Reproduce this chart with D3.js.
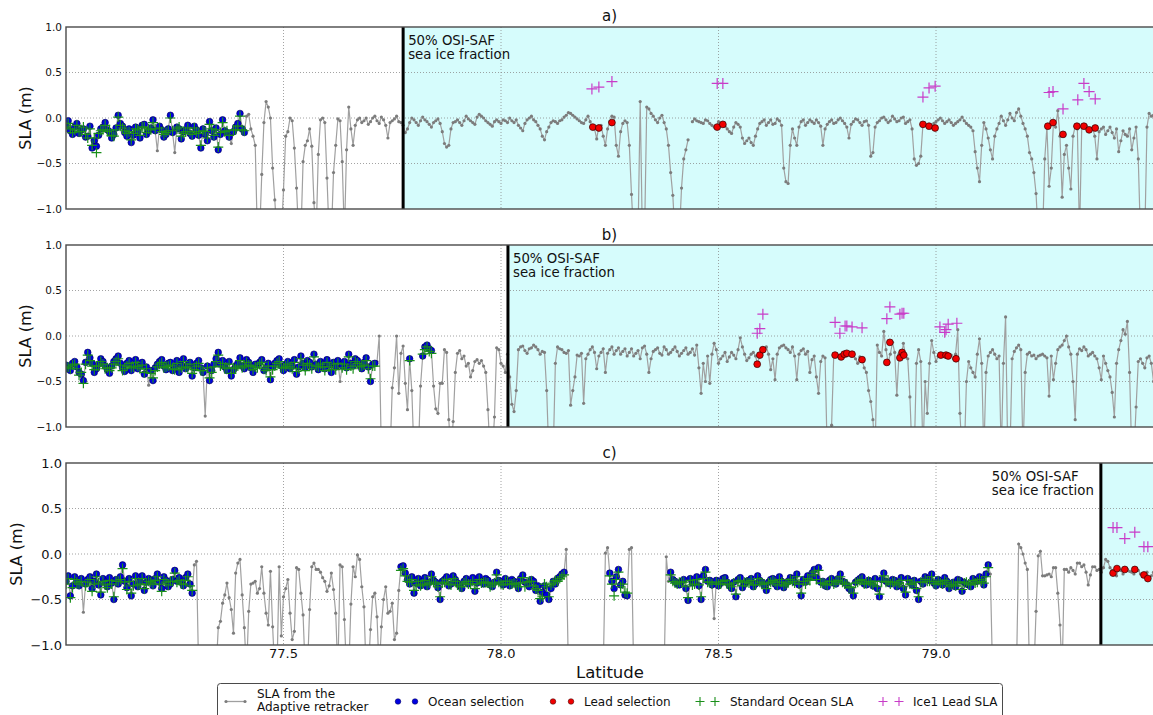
<!DOCTYPE html>
<html>
<head>
<meta charset="utf-8">
<script src="https://cdn.jsdelivr.net/npm/d3@7"></script>
<style>
  body { margin: 0; background: #fff; }
  svg { display: block; }
  text { font-family: "DejaVu Sans", "Liberation Sans", sans-serif; fill: #111; }
</style>
</head>
<body>
<svg id="chart" width="1153" height="715"></svg>
<script>
// Along-track latitude of the records (degrees N): main records and the ones in between
const track = [
  77.00,77.01,77.02,77.03,77.04,77.05,77.06,77.07,77.08,77.09,
  77.10,77.11,77.12,77.13,77.14,77.15,77.16,77.17,77.18,77.19,
  77.20,77.21,77.22,77.23,77.24,77.25,77.26,77.27,77.28,77.29,
  77.30,77.31,77.32,77.33,77.34,77.35,77.36,77.37,77.38,77.39,
  77.40,77.41,77.42,77.43,77.44,77.45,77.46,77.47,77.48,77.49,
  77.50,77.51,77.52,77.53,77.54,77.55,77.56,77.57,77.58,77.59,
  77.60,77.61,77.62,77.63,77.64,77.65,77.66,77.67,77.68,77.69,
  77.70,77.71,77.72,77.73,77.74,77.75,77.76,77.77,77.78,77.79,
  77.80,77.81,77.82,77.83,77.84,77.85,77.86,77.87,77.88,77.89,
  77.90,77.91,77.92,77.93,77.94,77.95,77.96,77.97,77.98,77.99,
  78.00,78.01,78.02,78.03,78.04,78.05,78.06,78.07,78.08,78.09,
  78.10,78.11,78.12,78.13,78.14,78.15,78.16,78.17,78.18,78.19,
  78.20,78.21,78.22,78.23,78.24,78.25,78.26,78.27,78.28,78.29,
  78.30,78.31,78.32,78.33,78.34,78.35,78.36,78.37,78.38,78.39,
  78.40,78.41,78.42,78.43,78.44,78.45,78.46,78.47,78.48,78.49,
  78.50,78.51,78.52,78.53,78.54,78.55,78.56,78.57,78.58,78.59,
  78.60,78.61,78.62,78.63,78.64,78.65,78.66,78.67,78.68,78.69,
  78.70,78.71,78.72,78.73,78.74,78.75,78.76,78.77,78.78,78.79,
  78.80,78.81,78.82,78.83,78.84,78.85,78.86,78.87,78.88,78.89,
  78.90,78.91,78.92,78.93,78.94,78.95,78.96,78.97,78.98,78.99,
  79.00,79.01,79.02,79.03,79.04,79.05,79.06,79.07,79.08,79.09,
  79.10,79.11,79.12,79.13,79.14,79.15,79.16,79.17,79.18,79.19,
  79.20,79.21,79.22,79.23,79.24,79.25,79.26,79.27,79.28,79.29,
  79.30,79.31,79.32,79.33,79.34,79.35,79.36,79.37,79.38,79.39,
  79.40,79.41,79.42,79.43,79.44,79.45,79.46,79.47,79.48,79.49,
  79.50
];
const trackMid = [
  77.005,77.015,77.025,77.035,77.045,77.055,77.065,77.075,77.085,77.095,
  77.105,77.115,77.125,77.135,77.145,77.155,77.165,77.175,77.185,77.195,
  77.205,77.215,77.225,77.235,77.245,77.255,77.265,77.275,77.285,77.295,
  77.305,77.315,77.325,77.335,77.345,77.355,77.365,77.375,77.385,77.395,
  77.405,77.415,77.425,77.435,77.445,77.455,77.465,77.475,77.485,77.495,
  77.505,77.515,77.525,77.535,77.545,77.555,77.565,77.575,77.585,77.595,
  77.605,77.615,77.625,77.635,77.645,77.655,77.665,77.675,77.685,77.695,
  77.705,77.715,77.725,77.735,77.745,77.755,77.765,77.775,77.785,77.795,
  77.805,77.815,77.825,77.835,77.845,77.855,77.865,77.875,77.885,77.895,
  77.905,77.915,77.925,77.935,77.945,77.955,77.965,77.975,77.985,77.995,
  78.005,78.015,78.025,78.035,78.045,78.055,78.065,78.075,78.085,78.095,
  78.105,78.115,78.125,78.135,78.145,78.155,78.165,78.175,78.185,78.195,
  78.205,78.215,78.225,78.235,78.245,78.255,78.265,78.275,78.285,78.295,
  78.305,78.315,78.325,78.335,78.345,78.355,78.365,78.375,78.385,78.395,
  78.405,78.415,78.425,78.435,78.445,78.455,78.465,78.475,78.485,78.495,
  78.505,78.515,78.525,78.535,78.545,78.555,78.565,78.575,78.585,78.595,
  78.605,78.615,78.625,78.635,78.645,78.655,78.665,78.675,78.685,78.695,
  78.705,78.715,78.725,78.735,78.745,78.755,78.765,78.775,78.785,78.795,
  78.805,78.815,78.825,78.835,78.845,78.855,78.865,78.875,78.885,78.895,
  78.905,78.915,78.925,78.935,78.945,78.955,78.965,78.975,78.985,78.995,
  79.005,79.015,79.025,79.035,79.045,79.055,79.065,79.075,79.085,79.095,
  79.105,79.115,79.125,79.135,79.145,79.155,79.165,79.175,79.185,79.195,
  79.205,79.215,79.225,79.235,79.245,79.255,79.265,79.275,79.285,79.295,
  79.305,79.315,79.325,79.335,79.345,79.355,79.365,79.375,79.385,79.395,
  79.405,79.415,79.425,79.435,79.445,79.455,79.465,79.475,79.485,79.495
];

// SLA from the Adaptive retracker (m); values below -1 fall outside the axis
const slaA = [
  -0.08,-0.14,-0.10,-0.17,-0.12,-0.20,-0.33,-0.31,-0.12,-0.05,
  -0.15,-0.18,0.03,-0.09,-0.20,-0.27,-0.10,-0.22,-0.07,-0.14,
  -0.02,-0.36,-0.13,-0.18,0.03,-0.38,-0.12,-0.15,-0.08,-0.20,
  -0.13,-0.33,-0.18,-0.04,-0.21,-0.35,-0.02,-0.16,-0.28,-0.10,
  0.05,-0.16,0.04,-0.20,-1.3,-0.62,0.18,0.00,-0.90,-1.3,
  -0.79,-0.15,-0.03,-0.77,-1.3,-0.30,-0.12,-0.93,-0.40,0.00,
  -0.66,-1.3,-0.30,-0.03,-1.3,0.12,-0.30,-0.02,-0.05,0.00,
  -0.04,0.02,-0.06,-0.02,-0.22,-0.03,0.02,-0.05,-0.16,-0.05,
  -0.02,-0.08,0.01,-0.04,-0.10,-0.03,-0.06,-0.28,-0.30,-0.05,
  -0.02,-0.08,0.02,-0.03,-0.07,0.04,0.00,-0.05,-0.09,-0.02,
  -0.06,-0.03,0.00,-0.05,-0.08,-0.14,-0.02,0.02,-0.04,-0.12,
  -0.24,-0.10,-0.03,-0.06,-0.02,0.03,0.05,0.01,-0.03,-0.06,
  0.02,-0.10,-0.23,-0.08,-0.30,-0.04,0.01,-0.42,-0.06,-0.05,
  -0.84,-1.3,0.18,-1.3,0.10,0.02,-0.05,0.03,-0.12,-0.60,
  -1.3,-1.3,-0.45,-0.24,-0.04,-0.03,-0.05,-0.02,-0.06,-0.10,
  -0.04,-0.07,-0.12,-0.17,-0.05,-0.10,-0.28,-0.22,-0.30,-0.12,
  -0.04,-0.08,-0.02,-0.06,-0.03,-0.55,-0.72,-0.12,-0.30,-0.04,
  -0.08,-0.02,-0.06,-0.05,-0.30,-0.07,-0.02,-0.05,0.00,-0.06,
  -0.22,-0.04,-0.02,-0.08,-0.03,-0.42,-0.10,-0.03,0.01,-0.05,
  0.02,-0.04,0.00,-0.06,-0.02,-0.45,-0.50,-0.07,-0.09,-0.11,
  -0.04,0.00,-0.06,-0.02,-0.08,-0.04,0.01,-0.06,-0.10,-0.37,
  -0.70,-0.05,-0.22,-0.45,-0.12,0.02,-0.08,0.05,-0.03,0.10,
  -0.06,-0.20,-0.45,-0.83,-1.3,-0.45,-0.75,-0.05,0.08,-0.87,
  -0.30,-0.78,-0.09,-1.3,-0.09,-0.13,-0.11,-0.45,-0.12,-0.18,
  -0.10,-0.22,-0.37,-0.14,-0.20,-0.35,-0.10,-1.3,-1.3,0.05,
  0.03
];
const slaAMid = [
  -0.03,-0.18,-0.06,-0.13,-0.21,-0.09,-0.25,-0.19,-0.10,-0.13,
  -0.22,-0.11,-0.06,-0.16,-0.12,-0.19,-0.15,-0.08,-0.18,-0.11,
  -0.14,-0.09,-0.21,-0.12,-0.16,-0.10,-0.23,-0.13,-0.17,-0.09,
  -0.19,-0.12,-0.25,-0.14,-0.11,-0.18,-0.14,-0.21,-0.15,-0.06,
  -0.12,0.02,-0.12,-0.30,-1.3,-0.05,0.12,-0.55,-1.3,-1.3,
  -0.20,0.00,-0.33,-1.3,-0.48,-0.25,-0.31,-1.3,-0.02,-0.05,
  -1.3,-0.60,-0.01,-0.48,-0.35,-0.12,-0.08,0.00,-0.03,-0.07,
  0.00,-0.03,0.01,-0.08,-0.05,-0.01,-0.04,-0.08,-0.12,0.00,
  -0.05,-0.03,-0.02,-0.07,-0.05,-0.01,-0.15,-0.32,-0.12,-0.04,
  -0.05,-0.03,-0.01,-0.05,0.01,0.02,-0.03,-0.07,-0.04,-0.04,
  -0.02,-0.05,-0.03,-0.02,-0.11,-0.06,0.00,-0.02,-0.08,-0.20,
  -0.15,-0.05,-0.04,-0.03,0.01,0.06,0.03,-0.01,-0.05,-0.02,
  -0.04,-0.12,-0.09,-0.20,-0.12,0.02,-0.30,-0.15,-0.03,-0.30,
  -1.3,-1.3,-1.3,0.12,0.05,-0.02,0.00,-0.05,-0.30,-0.85,
  -1.3,-0.77,-0.35,null,-0.01,-0.04,-0.06,-0.03,-0.08,-0.09,
  -0.06,-0.09,-0.15,-0.10,-0.07,-0.22,-0.25,-0.27,-0.20,-0.06,
  -0.02,-0.05,-0.07,-0.01,-0.08,-0.70,-0.30,-0.22,-0.10,-0.02,
  -0.05,-0.04,-0.02,-0.09,-0.12,-0.04,-0.06,-0.02,-0.03,-0.10,
  -0.07,-0.01,-0.05,-0.04,-0.08,-0.38,-0.05,0.00,-0.02,-0.03,
  -0.01,-0.03,0.01,-0.04,-0.12,-0.52,-0.42,-0.08,-0.10,-0.06,
  -0.02,-0.03,-0.04,-0.05,-0.06,-0.02,-0.03,-0.08,-0.14,-0.55,
  -0.30,-0.12,-0.35,-0.20,-0.06,-0.03,-0.02,0.00,0.06,0.02,
  -0.12,-0.38,-0.60,-1.3,-1.3,-0.10,-0.55,-0.10,-0.20,-0.40,
  -0.55,-0.20,-0.12,-0.10,-0.08,-0.12,-0.20,-0.15,-0.10,-0.14,
  -0.16,-0.12,-0.25,-0.18,-0.12,-0.22,-0.45,-1.3,-0.10,0.02
];

const slaB = [
  -0.32,-0.38,-0.28,-0.40,-0.49,-0.18,-0.30,-0.36,-0.25,-0.33,
  -0.41,-0.28,-0.22,-0.35,-0.30,-0.38,-0.26,-0.33,-0.42,-0.54,
  -0.49,-0.31,-0.26,-0.37,-0.29,-0.34,-0.40,-0.25,-0.32,-0.44,
  -0.30,-0.35,-0.88,-0.49,-0.31,-0.18,-0.27,-0.38,-0.44,-0.33,
  -0.24,-0.36,-0.29,-0.40,-0.32,-0.26,-0.35,-0.48,-0.30,-0.25,
  -0.38,-0.28,-0.33,-0.42,-0.22,-0.35,-0.29,-0.20,-0.37,-0.31,
  -0.26,-0.40,-0.34,-0.50,-0.28,-0.20,-0.33,-0.27,-0.36,-0.24,
  -0.50,-0.30,0.00,-1.3,-1.3,-0.57,0.00,-0.19,-0.52,-0.25,
  -1.3,-1.3,-0.22,-0.10,-0.16,-0.80,-0.52,-0.15,-0.92,-0.94,
  -0.19,-0.25,-0.33,-0.45,-0.28,-0.30,-0.33,-0.81,-1.3,-0.13,
  -0.30,-0.40,-0.45,-0.83,-0.15,-0.11,-0.19,-0.13,-0.12,-0.20,
  -0.18,-1.3,-1.3,-0.12,-0.15,-0.19,-0.76,-0.45,-0.22,-0.74,
  -0.20,-0.12,-0.36,-0.18,-0.40,-0.15,-0.20,-0.13,-0.17,-0.22,
  -0.14,-0.19,-0.25,-0.11,-0.40,-0.17,-0.13,-0.21,-0.15,-0.18,
  -0.12,-0.22,-0.16,-0.20,-0.14,-0.10,-0.63,-0.50,-0.52,-0.08,
  -0.30,-0.22,-0.28,-0.18,-0.25,-0.02,-0.20,-0.24,-0.18,-0.31,
  -0.18,-0.12,-0.37,-0.48,-0.13,-0.10,-0.15,-0.12,-0.48,-0.16,
  -0.20,-0.40,-0.22,-0.63,-0.22,-1.3,-0.98,-0.21,-0.23,-0.20,
  -0.19,-0.20,-0.30,-0.26,-0.40,-0.72,-1.3,-0.18,0.05,-0.29,
  -0.07,-0.65,-0.24,-0.21,-0.67,-1.3,-0.15,-1.3,-0.85,-0.05,
  -0.28,-0.21,-0.21,-0.22,-0.25,0.07,-1.3,-0.50,-0.35,-0.45,
  -0.03,-1.3,-0.22,-0.15,-0.25,-1.3,0.21,-1.3,-0.17,-0.10,
  -1.3,-0.20,-0.22,-0.25,-0.21,-0.22,-0.66,-0.48,-0.15,-0.10,
  0.00,-0.20,-0.92,-0.14,-0.12,-0.22,-0.18,-0.25,-0.48,-0.30,
  -0.45,-0.89,-0.15,0.07,0.16,-1.3,-0.78,-0.25,-0.35,-0.22,
  -0.50
];
const slaBMid = [
  -0.36,-0.30,-0.34,-0.42,-0.29,-0.24,-0.40,-0.31,-0.28,-0.37,
  -0.33,-0.25,-0.30,-0.39,-0.27,-0.32,-0.36,-0.29,-0.34,-0.38,
  -0.35,-0.28,-0.33,-0.30,-0.38,-0.27,-0.32,-0.36,-0.29,-0.35,
  -0.27,-0.40,-0.33,-0.38,-0.25,-0.31,-0.34,-0.28,-0.37,-0.30,
  -0.33,-0.26,-0.35,-0.31,-0.29,-0.38,-0.30,-0.34,-0.27,-0.33,
  -0.31,-0.36,-0.26,-0.34,-0.30,-0.27,-0.34,-0.31,-0.28,-0.36,
  -0.32,-0.29,-0.27,-0.33,-0.35,-0.30,-0.25,-0.32,-0.29,-0.34,
  -0.31,-0.28,-1.3,-1.3,-1.3,-0.35,-0.63,-0.11,-0.81,-0.60,
  -1.3,-0.55,-0.12,-0.14,-0.55,-0.85,-0.52,-0.18,-1.3,-0.40,
  -0.16,-0.22,-0.30,-0.38,-0.26,-0.27,-0.40,-1.3,-0.89,-0.15,
  -0.33,-0.20,-0.75,-0.60,-0.12,-0.16,-0.14,-0.10,-0.15,-0.17,
  -0.60,-1.3,-0.30,-0.14,-0.18,-0.16,-0.60,-0.21,-0.19,-0.25,
  -0.15,-0.18,-0.22,-0.14,-0.19,-0.12,-0.16,-0.20,-0.14,-0.18,
  -0.22,-0.16,-0.13,-0.20,-0.25,-0.15,-0.19,-0.12,-0.20,-0.15,
  -0.17,-0.19,-0.13,-0.18,-0.21,-0.35,-0.30,-0.22,-0.20,-0.15,
  -0.25,-0.18,-0.23,-0.21,-0.15,-0.12,-0.27,-0.20,-0.22,-0.20,
  -0.14,-0.20,-0.25,-0.20,-0.11,-0.13,-0.18,-0.22,-0.20,-0.14,
  -0.17,-0.26,-0.45,-0.28,-0.24,-1.3,-0.20,-0.22,-0.21,-0.22,
  -0.21,-0.25,-0.23,-0.35,-0.60,-0.92,-0.10,-0.22,-0.15,-0.20,
  -0.18,-0.20,-0.08,-0.25,-1.3,-0.30,-0.28,-0.50,-0.30,-0.18,
  -0.22,-0.20,-0.23,-0.21,-0.20,-0.85,-1.3,-0.28,-0.40,-0.20,
  -0.30,-0.40,-0.18,-0.20,-0.22,-0.30,-1.3,-0.25,-0.13,-0.15,
  -0.40,-0.18,-0.21,-0.22,-0.20,-0.24,-0.22,-0.30,-0.12,-0.05,
  -0.12,-0.50,-0.20,-0.16,-0.15,-0.20,-0.22,-0.35,-0.22,-0.38,
  -0.62,-0.30,-0.05,0.02,-0.40,-1.3,-0.28,-0.30,-0.24,-0.30
];

const slaC = [
  -0.30,-0.46,-0.25,-0.35,-0.64,-0.28,-0.38,-0.22,-0.45,-0.31,
  -0.26,-0.50,-0.33,-0.12,-0.37,-0.46,-0.24,-0.30,-0.40,-0.27,
  -0.35,-0.22,-0.38,-0.29,-0.33,-0.18,-0.26,-0.35,-0.22,-0.43,
  -0.08,-1.3,-1.3,-1.3,-1.3,-0.81,-0.54,-0.32,-0.61,-0.21,
  -0.06,-0.81,-0.63,-0.32,-0.43,-0.14,-0.65,-0.19,-1.3,-0.14,
  -0.47,-0.28,-0.94,-0.15,-0.43,-1.3,-0.61,-0.10,-0.17,-0.26,
  -0.41,-0.21,-0.65,-0.12,-0.72,-1.3,-0.14,-0.01,-0.36,-1.3,
  -0.83,-0.43,-1.3,-0.50,-0.65,-0.54,-0.87,-0.14,-0.21,-0.33,
  -0.43,-0.27,-0.30,-0.36,-0.22,-0.31,-0.50,-0.28,-0.35,-0.24,
  -0.32,-0.38,-0.27,-0.30,-0.41,-0.25,-0.33,-0.29,-0.36,-0.20,
  -0.31,-0.27,-0.35,-0.30,-0.38,-0.23,-0.33,-0.28,-0.40,-0.52,
  -0.35,-0.50,-0.30,-0.27,-0.22,0.05,-1.3,-1.3,-1.3,-1.3,
  -1.3,-1.3,-1.3,-1.3,0.01,-0.21,-0.38,-0.17,-0.30,-0.46,
  0.07,-1.3,-1.3,-1.3,-1.3,-1.3,-1.3,-1.3,-0.03,-0.20,
  -0.30,-0.34,-0.28,-0.51,-0.32,-0.25,-0.50,-0.17,-0.29,-0.71,
  -0.35,-0.27,-0.31,-0.38,-0.47,-0.26,-0.33,-0.29,-0.36,-0.24,
  -0.31,-0.40,-0.28,-0.33,-0.25,-0.37,-0.30,-0.27,-0.22,-0.46,
  -0.31,-0.26,-0.17,-0.15,-0.30,-0.36,-0.27,-0.33,-0.22,-0.31,
  -0.38,-0.46,-0.29,-0.25,-0.34,-0.30,-0.27,-0.47,-0.21,-0.32,
  -0.28,-0.36,-0.26,-0.45,-0.31,-0.29,-0.50,-0.33,-0.27,-0.22,
  -0.35,-0.30,-0.26,-0.38,-0.31,-0.28,-0.41,-0.33,-0.36,-0.30,
  -0.25,-0.34,-0.12,-1.3,-1.3,-1.3,-1.3,-1.3,-1.3,0.11,
  0.00,-0.17,-1.3,-0.63,0.03,-0.24,-0.22,-0.15,-0.43,-1.3,
  -0.17,-0.15,-0.22,-0.10,-0.12,-0.34,-0.14,-0.18,-0.20,-0.06,
  -0.15,-0.21,-0.16,-0.22,-0.17,-0.20,-0.17,-0.22,-0.23,-0.27,
  -0.20
];
const slaCMid = [
  -0.24,-0.35,-0.30,-0.27,-0.33,-0.25,-0.30,-0.34,-0.27,-0.36,
  -0.32,-0.28,-0.25,-0.30,-0.27,-0.33,-0.36,-0.24,-0.31,-0.29,
  -0.27,-0.31,-0.25,-0.36,-0.28,-0.30,-0.31,-0.26,-0.33,-0.12,
  -1.3,-1.3,-1.3,-1.3,-1.3,-0.74,-0.45,-0.48,-0.87,-0.10,
  -0.45,-1.3,-0.33,-0.30,-0.38,-0.43,-0.78,-0.80,-1.3,-0.90,
  -0.38,-0.65,-0.85,-0.17,-0.67,-1.3,-0.14,-0.17,-0.20,-0.30,
  -0.35,-0.39,-1.3,-0.14,-1.3,-0.55,-0.25,-0.06,-0.58,-1.3,
  -0.47,-0.69,-0.80,-0.36,-0.63,-0.94,-0.40,-0.13,-0.28,-0.25,
  -0.32,-0.35,-0.26,-0.31,-0.29,-0.37,-0.30,-0.25,-0.33,-0.28,
  -0.35,-0.30,-0.33,-0.26,-0.32,-0.30,-0.27,-0.34,-0.31,-0.29,
  -0.34,-0.30,-0.28,-0.33,-0.27,-0.31,-0.36,-0.30,-0.35,-0.42,
  -0.45,-0.38,-0.33,-0.25,-0.20,-1.3,-1.3,-1.3,-1.3,-1.3,
  -1.3,-1.3,-1.3,-1.3,0.07,-0.30,-0.25,-0.34,-0.45,0.05,
  -1.3,-1.3,-1.3,-1.3,-1.3,-1.3,-1.3,-1.3,-0.30,-0.28,
  -0.33,-0.30,-0.38,-0.27,-0.31,-0.35,-0.24,-0.30,-0.34,-0.29,
  -0.32,-0.26,-0.35,-0.31,-0.28,-0.37,-0.30,-0.27,-0.33,-0.29,
  -0.35,-0.31,-0.27,-0.36,-0.30,-0.33,-0.26,-0.31,-0.34,-0.28,
  -0.24,-0.21,-0.26,-0.31,-0.35,-0.29,-0.32,-0.27,-0.30,-0.34,
  -0.40,-0.31,-0.27,-0.33,-0.29,-0.35,-0.38,-0.28,-0.30,-0.33,
  -0.29,-0.31,-0.38,-0.27,-0.34,-0.40,-0.30,-0.25,-0.29,-0.32,
  -0.28,-0.34,-0.30,-0.33,-0.36,-0.29,-0.31,-0.34,-0.27,-0.30,
  -0.28,-0.22,-0.22,-1.3,-1.3,-1.3,-1.3,-1.3,-1.3,0.07,
  -0.10,-1.3,-1.3,-0.02,-0.24,-0.23,-0.25,-0.15,-0.78,-0.17,
  -0.20,-0.18,-0.10,-0.14,-0.20,-0.23,-0.14,-0.17,-0.15,-0.08,
  -0.18,-0.24,-0.18,-0.17,-0.19,-0.22,-0.18,-0.25,-0.20,-0.24
];

// Standard Ocean SLA (m) on the ocean-selected records: [first index, values]
const stdA = [
  [0, [-0.10,-0.12,-0.13,-0.15,-0.10,-0.22,-0.30,-0.38,-0.14,-0.08,
       -0.13,-0.20,0.01,-0.11,-0.17,-0.24,-0.12,-0.19,-0.10,-0.12,
       -0.05,null,-0.15,-0.16,0.00,null,-0.10,-0.17,-0.11,-0.18,
       -0.15,-0.30,-0.15,-0.07,-0.19,-0.32,-0.05,-0.14,null,-0.13,
       0.02,-0.14]]
];
const stdAMid = [
  [0, [-0.06,-0.16,-0.08,-0.15,-0.18,-0.12,-0.22,-0.17,-0.13,-0.15,
       -0.19,-0.13,-0.08,-0.14,-0.15,-0.17,-0.13,-0.10,-0.16,-0.13,
       -0.12,-0.11,-0.18,-0.14,-0.14,-0.12,-0.20,-0.15,-0.15,-0.11,
       -0.17,-0.14,-0.22,-0.12,-0.13,-0.16,-0.15,-0.19,-0.13,-0.09,
       -0.13]]
];
const stdB = [
  [0, [-0.35,-0.36,-0.31,-0.43,-0.52,-0.21,-0.33,-0.33,-0.28,-0.36,
       -0.38,-0.31,-0.25,-0.38,-0.33,-0.35,-0.29,-0.36,-0.40,null,
       -0.46,-0.34,-0.29,-0.34,-0.32,-0.37,-0.37,-0.28,-0.35,-0.41,
       -0.33,-0.38,null,-0.46,-0.34,-0.21,-0.30,-0.35,-0.41,-0.36,
       -0.27,-0.33,-0.32,-0.37,-0.35,-0.29,-0.38,-0.45,-0.33,-0.28,
       -0.35,-0.31,-0.36,-0.39,-0.25,-0.38,-0.32,-0.23,-0.34,-0.34,
       -0.29,-0.37,-0.37,null,-0.31,-0.23,-0.36,-0.30,-0.33,-0.27,
       -0.47,-0.33]],
  [79, [-0.27,null,null,-0.20,-0.12,-0.19]]
];
const stdBMid = [
  [0, [-0.34,-0.32,-0.36,-0.40,-0.31,-0.27,-0.37,-0.33,-0.31,-0.35,
       -0.35,-0.28,-0.32,-0.36,-0.30,-0.34,-0.33,-0.32,-0.36,-0.41,
       -0.38,-0.31,-0.35,-0.33,-0.36,-0.30,-0.35,-0.34,-0.31,-0.37,
       -0.30,-0.38,-0.35,-0.40,-0.28,-0.33,-0.36,-0.31,-0.35,-0.33,
       -0.35,-0.29,-0.33,-0.34,-0.31,-0.36,-0.33,-0.37,-0.30,-0.35,
       -0.33,-0.34,-0.29,-0.36,-0.32,-0.30,-0.36,-0.33,-0.31,-0.38,
       -0.34,-0.31,-0.30,-0.35,-0.37,-0.33,-0.28,-0.34,-0.32,-0.36,
       -0.33]],
  [82, [-0.15,-0.17]]
];
const stdC = [
  [0, [-0.33,-0.48,-0.28,-0.33,null,-0.31,-0.41,-0.25,-0.42,-0.34,
       -0.29,-0.47,-0.30,-0.16,-0.39,-0.43,-0.27,-0.33,-0.38,-0.30,
       -0.33,-0.25,-0.41,-0.31,-0.30,-0.21,-0.29,-0.33,-0.25,-0.40]],
  [77, [-0.18,-0.24,-0.31,-0.40,-0.30,-0.33,-0.34,-0.25,-0.33,-0.47,
        -0.31,-0.33,-0.27,-0.34,-0.36,-0.30,-0.33,-0.38,-0.28,-0.31,
        -0.32,-0.34,-0.23,-0.33,-0.30,-0.33,-0.32,-0.36,-0.26,-0.31,
        -0.30,-0.38,-0.49,-0.33,-0.47,-0.32,-0.30,-0.25]],
  [125, [-0.24,-0.46,-0.20,-0.33,-0.43]],
  [139, [-0.23,-0.32,-0.31,-0.31,-0.48,-0.34,-0.28,-0.47,-0.20,-0.31,
         null,-0.33,-0.30,-0.33,-0.36,-0.44,-0.29,-0.31,-0.32,-0.34,
         -0.27,-0.33,-0.38,-0.31,-0.31,-0.28,-0.35,-0.32,-0.30,-0.25,
         -0.43,-0.33,-0.29,-0.20,-0.18,-0.32,-0.34,-0.30,-0.31,-0.25,
         -0.33,-0.36,-0.43,-0.31,-0.28,-0.32,-0.32,-0.30,-0.44,-0.24,
         -0.30,-0.31,-0.34,-0.29,-0.42,-0.33,-0.31,-0.47,-0.31,-0.30,
         -0.25,-0.33,-0.32,-0.29,-0.36,-0.33,-0.31,-0.39,-0.31,-0.34,
         -0.32,-0.28,-0.32,-0.15]]
];
const stdCMid = [
  [0, [-0.27,-0.37,-0.31,-0.30,-0.35,-0.28,-0.33,-0.32,-0.30,-0.37,
       -0.33,-0.30,-0.28,-0.31,-0.30,-0.35,-0.34,-0.27,-0.33,-0.31,
       -0.29,-0.33,-0.28,-0.34,-0.30,-0.31,-0.33,-0.29,-0.35]],
  [77, [-0.16,-0.30,-0.28,-0.34,-0.35,-0.29,-0.32,-0.31,-0.36,-0.32,
        -0.28,-0.34,-0.30,-0.36,-0.32,-0.33,-0.30,-0.33,-0.32,-0.31,
        -0.36,-0.32,-0.31,-0.34,-0.30,-0.33,-0.34,-0.32,-0.36,-0.30,
        -0.35,-0.40,-0.47,-0.36,-0.34,-0.29,-0.27,-0.23]],
  [125, [-0.33,-0.28,-0.36,-0.42]],
  [139, [-0.30,-0.33,-0.31,-0.36,-0.29,-0.33,-0.34,-0.27,-0.31,-0.33,
         -0.31,-0.33,-0.29,-0.34,-0.32,-0.30,-0.35,-0.31,-0.29,-0.34,
         -0.31,-0.33,-0.32,-0.29,-0.34,-0.31,-0.33,-0.28,-0.32,-0.33,
         -0.30,-0.27,-0.23,-0.28,-0.32,-0.33,-0.30,-0.33,-0.29,-0.31,
         -0.33,-0.37,-0.32,-0.29,-0.33,-0.30,-0.34,-0.36,-0.30,-0.31,
         -0.33,-0.31,-0.32,-0.36,-0.29,-0.33,-0.38,-0.31,-0.28,-0.30,
         -0.32,-0.30,-0.33,-0.31,-0.34,-0.35,-0.31,-0.32,-0.33,-0.29,
         -0.31,-0.30,-0.25]]
];

// Lead selection (Adaptive retracker, m): [latitude, SLA]
const leadA = [
  [78.211,-0.10],[78.225,-0.11],[78.255,-0.05],[78.497,-0.10],[78.510,-0.07],
  [78.970,-0.07],[78.984,-0.09],[78.998,-0.11],[79.257,-0.09],[79.269,-0.05],
  [79.292,-0.18],[79.324,-0.09],[79.340,-0.09],[79.352,-0.13],[79.366,-0.11]
];
const leadB = [
  [78.589,-0.31],[78.595,-0.21],[78.602,-0.15],[78.768,-0.21],[78.782,-0.23],
  [78.789,-0.20],[78.795,-0.19],[78.807,-0.20],[78.830,-0.26],[78.887,-0.29],
  [78.894,-0.07],[78.917,-0.24],[78.922,-0.18],[78.926,-0.21],[79.011,-0.21],
  [79.023,-0.21],[79.028,-0.22],[79.046,-0.25]
];
const leadC = [
  [79.407,-0.21],[79.416,-0.16],[79.434,-0.17],[79.457,-0.17],[79.478,-0.23],[79.487,-0.27]
];

// Ice1 Lead SLA (m): [latitude, SLA]
const ice1A = [
  [78.209,0.32],[78.225,0.34],[78.255,0.40],[78.497,0.38],[78.510,0.38],
  [78.970,0.23],[78.984,0.33],[78.998,0.35],[79.260,0.28],[79.269,0.29],
  [79.292,0.10],[79.326,0.20],[79.340,0.38],[79.352,0.29],[79.366,0.21]
];
const ice1B = [
  [78.589,0.03],[78.595,0.08],[78.602,0.24],[78.768,0.15],[78.779,0.03],
  [78.791,0.11],[78.795,0.11],[78.807,0.10],[78.830,0.09],[78.887,0.19],
  [78.894,0.32],[78.917,0.24],[78.922,0.25],[78.926,0.25],[79.009,0.10],
  [79.020,0.04],[79.023,0.07],[79.028,0.13],[79.048,0.14]
];
const ice1C = [
  [79.407,0.29],[79.416,0.29],[79.434,0.17],[79.457,0.24],[79.478,0.08],[79.487,0.08]
];

// Latitude of the 50% OSI-SAF sea ice fraction on each pass
const iceEdge = [77.775, 78.016, 79.379];

const panelTitles = ["a)", "b)", "c)"];
const xTicks = [77.5, 78.0, 78.5, 79.0];
const yTicks = [1.0, 0.5, 0.0, -0.5, -1.0];
const gridY = [0.5, 0.0, -0.5];

const series = [
  { sla: slaA, slaMid: slaAMid, std: stdA, stdMid: stdAMid, lead: leadA, ice1: ice1A },
  { sla: slaB, slaMid: slaBMid, std: stdB, stdMid: stdBMid, lead: leadB, ice1: ice1B },
  { sla: slaC, slaMid: slaCMid, std: stdC, stdMid: stdCMid, lead: leadC, ice1: ice1C }
];

// ---- layout ----
const W = 1153;
const plotLeft = 66;
const x = d3.scaleLinear().domain([77.0, 79.5]).range([plotLeft, 1153.5]);
const layout = [
  { top: 27,  height: 182, tickFont: 10.5, ylabX: 25, noteDx: 5,    titleDy: -6 },
  { top: 245, height: 182, tickFont: 10.5, ylabX: 25, noteDx: 5,    titleDy: -5 },
  { top: 463, height: 182, tickFont: 13,   ylabX: 16, noteDx: -109, titleDy: -5 }
];

const COL = {
  gray: "#a0a0a0", grayDot: "#7c7c7c", blue: "#0000e0", red: "#f00000",
  green: "#1a8f1a", magenta: "#c83cc8", ice: "#d6fcfc", spine: "#4a4a4a", grid: "#8c8c8c"
};

const svg = d3.select("#chart");
const fmt = d3.format(".1f");
const plus = s => `M${-s},0H${s}M0,${-s}V${s}`;

// records of one pass in along-track order
function records(lats, vals) { return lats.map((lat, i) => ({ lat, v: vals[i] })); }
function oceanRecords(lats, vals, segs) {
  const out = [];
  segs.forEach(([start, std]) => std.forEach((v, k) => {
    if (v != null) out.push({ lat: lats[start + k], sla: vals[start + k], std: v });
  }));
  return out;
}

series.forEach((s, p) => {
  const L = layout[p];
  const y = d3.scaleLinear().domain([-1, 1]).range([L.top + L.height, L.top]);
  const g = svg.append("g");
  const clipId = "clip" + p;
  g.append("clipPath").attr("id", clipId)
    .append("rect").attr("x", plotLeft).attr("y", L.top)
    .attr("width", W - plotLeft + 2).attr("height", L.height);

  const plot = g.append("g").attr("clip-path", `url(#${clipId})`);

  // sea-ice side shading
  plot.append("rect")
    .attr("x", x(iceEdge[p])).attr("y", L.top)
    .attr("width", W - x(iceEdge[p]) + 2).attr("height", L.height)
    .attr("fill", COL.ice);

  // dotted grid
  plot.selectAll(".gx").data(xTicks).join("line")
    .attr("x1", d => x(d)).attr("x2", d => x(d))
    .attr("y1", L.top).attr("y2", L.top + L.height)
    .attr("stroke", COL.grid).attr("stroke-width", 0.8).attr("stroke-dasharray", "1,2");
  plot.selectAll(".gy").data(gridY).join("line")
    .attr("x1", plotLeft).attr("x2", W)
    .attr("y1", d => y(d)).attr("y2", d => y(d))
    .attr("stroke", COL.grid).attr("stroke-width", 0.8).attr("stroke-dasharray", "1,2");

  // Adaptive retracker SLA
  const pts = records(track, s.sla).concat(records(trackMid, s.slaMid))
    .sort((a, b) => a.lat - b.lat);
  const line = d3.line().defined(d => d.v != null).x(d => x(d.lat)).y(d => y(d.v));
  plot.append("path").datum(pts).attr("d", line)
    .attr("fill", "none").attr("stroke", COL.gray).attr("stroke-width", 1.2);
  plot.selectAll(".gd").data(pts.filter(d => d.v != null)).join("circle")
    .attr("cx", d => x(d.lat)).attr("cy", d => y(d.v)).attr("r", 1.6)
    .attr("fill", COL.grayDot);

  // ocean-selected records
  const ocean = oceanRecords(track, s.sla, s.std)
    .concat(oceanRecords(trackMid, s.slaMid, s.stdMid))
    .sort((a, b) => a.lat - b.lat);
  plot.selectAll(".oc").data(ocean).join("circle")
    .attr("cx", d => x(d.lat)).attr("cy", d => y(d.sla)).attr("r", 3.3)
    .attr("fill", COL.blue).attr("stroke", "#000050").attr("stroke-width", 0.6);

  // lead selection
  plot.selectAll(".ld").data(s.lead).join("circle")
    .attr("cx", d => x(d[0])).attr("cy", d => y(d[1])).attr("r", 3.4)
    .attr("fill", COL.red).attr("stroke", "#300000").attr("stroke-width", 0.7);

  // standard ocean SLA
  plot.selectAll(".sd").data(ocean).join("path")
    .attr("transform", d => `translate(${x(d.lat)},${y(d.std)})`)
    .attr("d", plus(5)).attr("stroke", COL.green).attr("stroke-width", 1.2);

  // Ice1 lead SLA
  plot.selectAll(".i1").data(s.ice1).join("path")
    .attr("transform", d => `translate(${x(d[0])},${y(d[1])})`)
    .attr("d", plus(5.5)).attr("stroke", COL.magenta).attr("stroke-width", 1.2);

  // 50% sea ice fraction line
  plot.append("line")
    .attr("x1", x(iceEdge[p])).attr("x2", x(iceEdge[p]))
    .attr("y1", L.top).attr("y2", L.top + L.height)
    .attr("stroke", "#000").attr("stroke-width", 3);

  // frame
  g.append("rect").attr("x", plotLeft).attr("y", L.top)
    .attr("width", W - plotLeft + 4).attr("height", L.height)
    .attr("fill", "none").attr("stroke", COL.spine).attr("stroke-width", 1.4);

  // y tick labels
  g.selectAll(".yt").data(yTicks).join("text")
    .attr("x", plotLeft - 4).attr("y", d => y(d))
    .attr("dy", "0.35em").attr("text-anchor", "end")
    .style("font-size", L.tickFont + "px").text(d => fmt(d));

  // y axis label
  g.append("text")
    .attr("transform", `translate(${L.ylabX},${L.top + L.height / 2}) rotate(-90)`)
    .attr("text-anchor", "middle").attr("dy", "0.35em")
    .style("font-size", "16px").text("SLA (m)");

  // panel title
  g.append("text").attr("x", (plotLeft + W) / 2).attr("y", L.top + L.titleDy)
    .attr("text-anchor", "middle").style("font-size", "15px").text(panelTitles[p]);

  // sea ice annotation
  const note = g.append("text").style("font-size", "13.3px");
  note.append("tspan").attr("x", x(iceEdge[p]) + L.noteDx).attr("y", L.top + 17.5).text("50% OSI-SAF");
  note.append("tspan").attr("x", x(iceEdge[p]) + L.noteDx).attr("y", L.top + 31.5).text("sea ice fraction");

  // x tick labels on the bottom panel only
  if (p === 2) {
    g.selectAll(".xt").data(xTicks).join("text")
      .attr("x", d => x(d)).attr("y", L.top + L.height + 13)
      .attr("text-anchor", "middle").style("font-size", "13px").text(d => fmt(d));
    g.append("text").attr("x", 610).attr("y", 678)
      .attr("text-anchor", "middle").style("font-size", "16.5px").text("Latitude");
  }
});

// ---- legend ----
const lg = svg.append("g");
lg.append("rect").attr("x", 217.5).attr("y", 683.5).attr("width", 785).attr("height", 45)
  .attr("rx", 3).attr("fill", "#fff").attr("stroke", COL.spine).attr("stroke-width", 1);
const ly = 701.5;
lg.append("line").attr("x1", 226).attr("x2", 245).attr("y1", ly).attr("y2", ly)
  .attr("stroke", COL.gray).attr("stroke-width", 1.3);
[226, 245].forEach(cx => lg.append("circle").attr("cx", cx).attr("cy", ly).attr("r", 1.6).attr("fill", COL.grayDot));
const t1 = lg.append("text").style("font-size", "12px");
t1.append("tspan").attr("x", 257).attr("y", 698).text("SLA from the");
t1.append("tspan").attr("x", 257).attr("y", 711).text("Adaptive retracker");

[398, 415].forEach(cx => lg.append("circle").attr("cx", cx).attr("cy", ly).attr("r", 2.8)
  .attr("fill", COL.blue).attr("stroke", "#000050").attr("stroke-width", 0.5));
lg.append("text").attr("x", 428).attr("y", ly + 4.3).style("font-size", "12px").text("Ocean selection");

[553, 571].forEach(cx => lg.append("circle").attr("cx", cx).attr("cy", ly).attr("r", 2.8)
  .attr("fill", COL.red).attr("stroke", "#300000").attr("stroke-width", 0.5));
lg.append("text").attr("x", 584).attr("y", ly + 4.3).style("font-size", "12px").text("Lead selection");

[700, 715].forEach(cx => lg.append("path").attr("transform", `translate(${cx},${ly})`)
  .attr("d", plus(4.5)).attr("stroke", COL.green).attr("stroke-width", 1.1));
lg.append("text").attr("x", 730).attr("y", ly + 4.3).style("font-size", "12px").text("Standard Ocean SLA");

[883, 899].forEach(cx => lg.append("path").attr("transform", `translate(${cx},${ly})`)
  .attr("d", plus(4.5)).attr("stroke", COL.magenta).attr("stroke-width", 1.1));
lg.append("text").attr("x", 913).attr("y", ly + 4.3).style("font-size", "12px").text("Ice1 Lead SLA");
</script>
</body>
</html>
